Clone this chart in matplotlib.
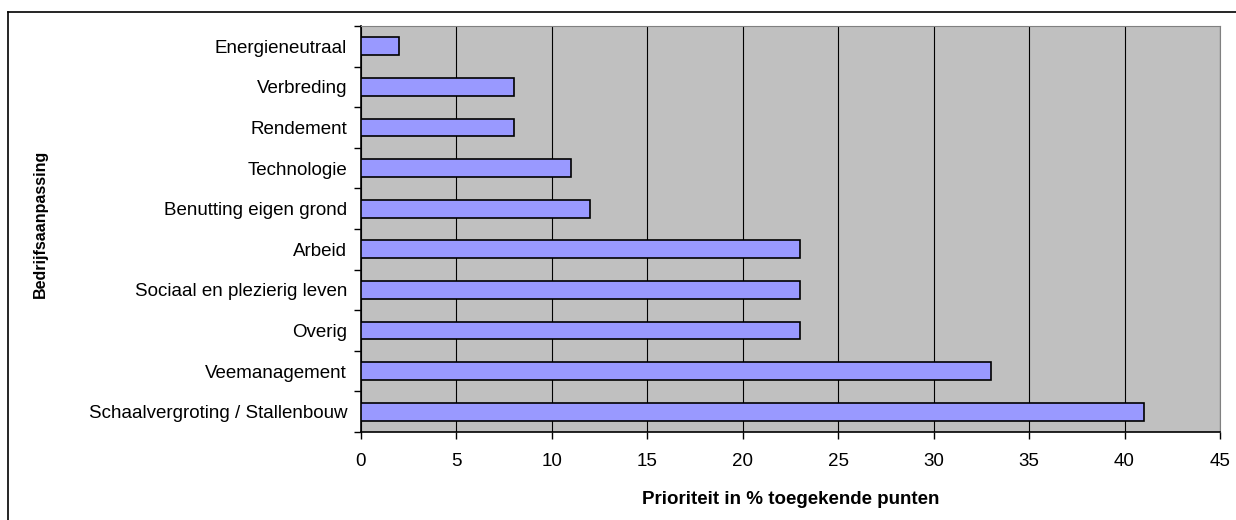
import numpy as np
import matplotlib
matplotlib.use('Agg')
import matplotlib.pyplot as plt
from matplotlib.lines import Line2D

#===============================================================================
categories = ["Schaalvergroting / Stallenbouw", "Veemanagement", "Overig",
              "Sociaal en plezierig leven", "Arbeid", "Benutting eigen grond",
              "Technologie", "Rendement", "Verbreding", "Energieneutraal"]
values = [41, 33, 23, 23, 23, 12, 11, 8, 8, 2]
x_ticks = [0, 5, 10, 15, 20, 25, 30, 35, 40, 45]
#===============================================================================
plt.rcParams['font.family'] = ['Liberation Sans', 'DejaVu Sans']

fig = plt.figure(figsize=(12.36, 5.2), dpi=100)
ax = fig.add_axes([361/1236, 88/520, (1220-361)/1236, (432-26)/520])
ax.set_facecolor('#C0C0C0')

ypos = np.arange(len(categories))
ax.barh(ypos, values, height=0.44, color='#9999FF', edgecolor='black',
        linewidth=1.2, zorder=3)

ax.set_xlim(0, 45)
ax.set_ylim(-0.5, len(categories) - 0.5)
ax.set_xticks(x_ticks)
ax.xaxis.grid(True, color='black', linewidth=0.8, zorder=1)
ax.set_axisbelow(True)

ax.set_yticks(ypos)
ax.set_yticklabels(categories)
ax.set_yticks(np.arange(-0.5, len(categories), 1.0), minor=True)
ax.tick_params(axis='y', which='major', length=0, pad=10, labelsize=13.5)
ax.tick_params(axis='y', which='minor', length=5, direction='out', width=1)
ax.tick_params(axis='x', length=5, direction='out', width=1, labelsize=13.5, pad=10)

for s in ['top', 'right']:
    ax.spines[s].set_color('#808080')
for s in ['left', 'bottom']:
    ax.spines[s].set_color('black')
    ax.spines[s].set_linewidth(1.2)

ax.set_xlabel("Prioriteit in % toegekende punten", fontweight='bold',
              fontsize=13.5, labelpad=15)
fig.text(40/1236, 1 - 224/520, "Bedrijfsaanpassing", rotation=90,
         fontweight='bold', fontsize=11.5, ha='center', va='center')

# outer frame (cut off on the right and bottom)
fig.add_artist(Line2D([8/1236, 8/1236], [0, 1 - 12/520], color='black', lw=1.2))
fig.add_artist(Line2D([8/1236, 1], [1 - 12/520, 1 - 12/520], color='black', lw=1.2))

plt.savefig("out.png", dpi=100)
